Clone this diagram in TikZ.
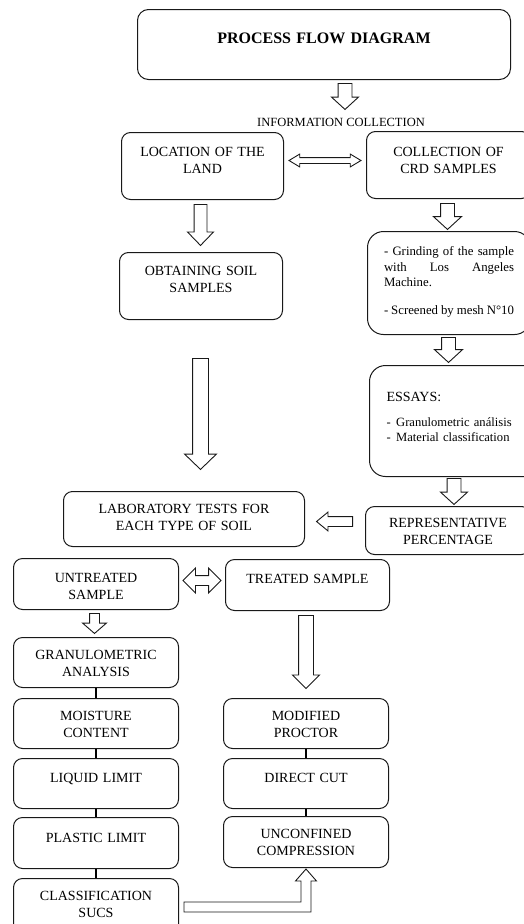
\documentclass[tikz,border=0pt]{standalone}
\usepackage{fontspec}
\setmainfont{Liberation Serif}
\usetikzlibrary{shapes.arrows,calc}
\hyphenpenalty=10000
\exhyphenpenalty=10000
\tolerance=9999

\begin{document}
\begin{tikzpicture}[
		x=1pt,
		y=-1pt,
		box/.style={draw=LineDark, line width=1pt, rounded corners=9pt, inner sep=0pt,
			anchor=north west, align=center, font=\fontsize{14}{17.5}\selectfont},
		blk/.style={draw=LineDark, line width=0.9pt, fill=white, minimum width=0pt},
		blkdown/.style n args={4}{blk, single arrow, shape border rotate=270, anchor=tail,
			inner sep=#1, single arrow head extend=#2, minimum height=#3, single arrow tip angle=#4},
		blkleft/.style n args={4}{blk, single arrow, shape border rotate=180, anchor=tail,
			inner sep=#1, single arrow head extend=#2, minimum height=#3, single arrow tip angle=#4},
		blkboth/.style n args={4}{blk, double arrow, inner sep=#1, double arrow head extend=#2,
			minimum height=#3, double arrow tip angle=#4},
		link/.style={draw=black, line width=2.5pt}
	]
	% ===== COLOURS =====
	\definecolor{LineDark}{RGB}{25,25,25}

	\useasboundingbox (0,0) rectangle (524,924);

	% ===== TOP =====
	\node[box, rounded corners=11pt, text width=373pt, text height=34.3pt, text depth=35.7pt,
		font=\fontsize{16}{19}\selectfont\bfseries] (title) at (137,9) {PROCESS FLOW DIAGRAM};
	\node[font=\fontsize{12.5}{15}\selectfont, inner sep=1pt] (info) at (341,122) {INFORMATION COLLECTION};

	% ===== LEFT BRANCH =====
	\node[box, text width=162pt, text height=23.6pt, text depth=43.4pt] (land) at (121,132)
		{LOCATION OF THE\\LAND};
	\node[box, text width=163pt, text height=22.6pt, text depth=44.4pt] (soil) at (119,252)
		{OBTAINING SOIL\\SAMPLES};

	% ===== RIGHT BRANCH =====
	\node[box, text width=164pt, text height=24.6pt, text depth=42.4pt] (crd) at (366,131)
		{COLLECTION OF\\CRD SAMPLES};
	\node[box, rounded corners=16pt, align=justify, text width=130pt, minimum width=163pt,
		text height=24.3pt, text depth=78.7pt, font=\fontsize{12.8}{15.5}\selectfont] (grind) at (367,231)
		{- Grinding of the sample with Los Angeles Machine.\\[12.5pt]- Screened by mesh N°10};
	\node[box, rounded corners=16pt, align=left, text width=150pt, inner xsep=17pt,
		text height=35.6pt, text depth=75.4pt, font=\fontsize{12.6}{15}\selectfont] (essay) at (369,365)
		{{\fontsize{14}{15}\selectfont ESSAYS:}\\[10.4pt]-\hspace{5.5pt}Granulometric análisis\\-\hspace{5.5pt}Material classification};
	\node[box, text width=165pt, text height=20.6pt, text depth=27.4pt] (rep) at (365,506)
		{REPRESENTATIVE\\PERCENTAGE};

	% ===== LABORATORY =====
	\node[box, text width=241pt, text height=21.6pt, text depth=33.4pt] (lab) at (63,491)
		{LABORATORY TESTS FOR\\EACH TYPE OF SOIL};
	\node[box, text width=165pt, text height=23.6pt, text depth=27.4pt] (untr) at (13,558)
		{UNTREATED\\SAMPLE};
	\node[box, text width=164pt, text height=23.6pt, text depth=27.4pt] (tr) at (225,559)
		{TREATED SAMPLE};

	% ===== UNTREATED TESTS =====
	\node[box, text width=165pt, text height=21.6pt, text depth=28.4pt] (gran) at (13,637)
		{GRANULOMETRIC\\ANALYSIS};
	\node[box, text width=165pt, text height=21.6pt, text depth=28.4pt] (moist) at (13,698)
		{MOISTURE\\CONTENT};
	\node[box, text width=165pt, text height=23.6pt, text depth=26.4pt] (liq) at (13,758)
		{LIQUID LIMIT};
	\node[box, text width=165pt, text height=24.6pt, text depth=26.4pt] (plast) at (13,817)
		{PLASTIC LIMIT};
	\node[box, text width=165pt, text height=21.6pt, text depth=35.4pt] (class) at (13,878)
		{CLASSIFICATION\\SUCS};

	% ===== TREATED TESTS =====
	\node[box, text width=165pt, text height=21.6pt, text depth=28.4pt] (proct) at (223,698)
		{MODIFIED\\PROCTOR};
	\node[box, text width=165pt, text height=23.6pt, text depth=26.4pt] (cut) at (223,758)
		{DIRECT CUT};
	\node[box, text width=165pt, text height=21.6pt, text depth=29.4pt] (uncon) at (223,816)
		{UNCONFINED\\COMPRESSION};

	% ===== BLOCK ARROWS =====
	\node[blkdown={6.5pt}{6.5pt}{26pt}{95}] (a1) at (345,83) {};
	\node[blkboth={2.5pt}{3.5pt}{72pt}{62}] (a2) at ($(land.east)!0.5!(crd.west)+(0,-5)$) {};
	\node[blkdown={6.5pt}{7pt}{26pt}{95}] (a3) at (447.5,203) {};
	\node[blkdown={6pt}{6.5pt}{41pt}{88}] (a4) at (200.5,204) {};
	\node[blkdown={6.5pt}{7pt}{25pt}{95}] (a5) at (448.5,337) {};
	\node[blkdown={7.5pt}{8pt}{111pt}{92}] (a6) at (200.5,358) {};
	\node[blkdown={6.5pt}{6.5pt}{26pt}{95}] (a7) at (454,478) {};
	\node[blkleft={4.5pt}{4.5pt}{36pt}{79}] (a8) at (353,521.5) {};
	\node[blkboth={4.5pt}{7.5pt}{38pt}{90}] (a9) at ($(untr.east)!0.5!(tr.west)+(0,-4)$) {};
	\node[blkdown={4.5pt}{7pt}{20pt}{98}] (a10) at (94.5,613) {};
	\node[blkdown={7pt}{6pt}{73pt}{90}] (a11) at (306,615) {};

	% bent arrow to the last test
	\draw[blk] ($(class.east)+(5,-5)$) -| ($(uncon.south)+(-5,13)$) -- ++(-5.5,0)
		-- ($(uncon.south)+(0,1)$) -- ++(10.5,12) -- ++(-5.5,0) |- ($(class.east)+(5,5)$) -- cycle;

	% ===== LINKS =====
	\draw[link] (gran) -- (moist);
	\draw[link] (moist) -- (liq);
	\draw[link] (liq) -- (plast);
	\draw[link] (plast) -- (class);
	\draw[link] (proct) -- (cut);
	\draw[link] (cut) -- (uncon);

\end{tikzpicture}
\end{document}
